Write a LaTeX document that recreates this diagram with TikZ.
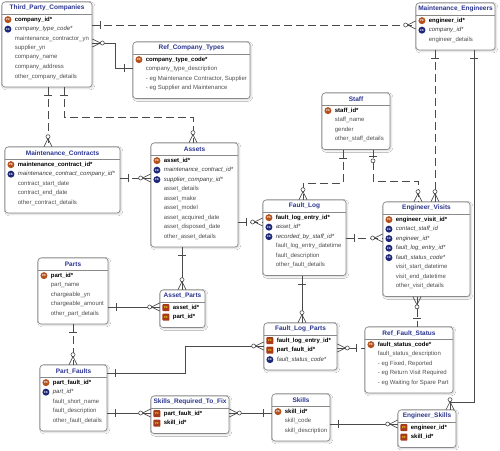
\documentclass[tikz,border=0pt]{standalone}
\usepackage{fontspec}
\setmainfont{Liberation Sans}
\usetikzlibrary{calc,fit,shadows.blur}
\definecolor{ttlblue}{HTML}{2B3590}
\definecolor{fieldgray}{HTML}{505050}
\definecolor{fkgray}{HTML}{3C3C3C}
\definecolor{frame}{HTML}{8A8A8A}
\definecolor{relgray}{HTML}{4A4A4A}
\definecolor{pkcol}{HTML}{B4521E}
\definecolor{fkcol}{HTML}{1E2878}
\definecolor{pfcol}{HTML}{A83A1C}
\newcommand\fldfont{\fontsize{6}{7}\selectfont}
\newcommand\ttlfont{\fontsize{6.5}{7.5}\selectfont}
\newcommand\keyfont{\fontsize{2.8}{3}\selectfont}
\tikzset{
  tbl/.style={draw=frame, fill=white, rounded corners=3pt, line width=0.7pt, inner sep=0pt,
    blur shadow={shadow xshift=1.2pt, shadow yshift=-1.2pt, shadow blur radius=1.6pt, shadow opacity=18}},
  ttl/.style={font=\ttlfont\bfseries, text=ttlblue, inner sep=0pt},
  sepline/.style={draw=frame, line width=0.8pt},
  fld/.style={anchor=west, inner sep=0pt, font=\fldfont, text=fieldgray},
  keydot/.style={circle, fill=#1, inner sep=0pt, minimum size=7pt, text=white, font=\keyfont\bfseries},
  keysq/.style={rectangle, rounded corners=0.8pt, fill=pfcol, inner sep=0pt, minimum size=7pt,
    text=yellow!85!orange, font=\keyfont\bfseries},
  pkrow/.style={fld, font=\fldfont\bfseries, text=black, label={[keydot=pkcol, label distance=3pt]left:PK}},
  fkrow/.style={fld, font=\fldfont\itshape, text=fkgray, label={[keydot=fkcol, label distance=3pt]left:FK}},
  pfrow/.style={fld, font=\fldfont\bfseries, text=black, label={[keysq, label distance=3pt]left:PF}},
  atrow/.style={fld},
  rel/.style={draw=relgray, line width=0.6pt},
  nonid/.style={dash pattern=on 8pt off 4pt},
  one/.pic={\draw[solid, relgray, line width=0.6pt] (8,-4) -- (8,4);},
  zone/.pic={\draw[solid, relgray, line width=0.6pt] (6,-4) -- (6,4);
    \draw[solid, relgray, line width=0.6pt, fill=white] (11,0) circle (2pt);},
  crow/.pic={\draw[solid, relgray, line width=0.6pt] (0,-4) -- (8,0) -- (0,4);
    \draw[solid, relgray, line width=0.6pt, fill=white] (10,0) circle (2pt);},
}
% box: name, left, top, right, rows, title
\newcommand\entity[6]{%
  \pgfmathsetmacro\eb{#3+28+9.5*(#5-1)}
  \node[tbl, fit={(#2,#3) (#4,\eb)}] (#1) {};
  \node[ttl] (#1-t) at ($(#1.north)+(0,6.5)$) {#6};
  \draw[sepline] ($(#1.north west)+(0,13)$) -- ($(#1.north east)+(0,13)$);
}
\newcommand\fields[2]{%
  \foreach \k/\t [count=\i] in {#2}
    \node[\k] (#1-\i) at ($(#1.north west)+(13,{18+9.5*(\i-1)})$) {\t};
}

\begin{document}
\begin{tikzpicture}[x=1pt,y=-1pt]
  \fill[white] (0,0) rectangle (500,450);
  \useasboundingbox (0,0) rectangle (500,450);
  % companies
  \entity{tpc}{2}{2}{92}{7}{Third\_Party\_Companies}
  \fields{tpc}{pkrow/company\_id*, fkrow/company\_type\_code*, atrow/maintenance\_contractor\_yn,
    atrow/supplier\_yn, atrow/company\_name, atrow/company\_address, atrow/other\_company\_details}
  \entity{rct}{133}{42}{250}{4}{Ref\_Company\_Types}
  \fields{rct}{pkrow/company\_type\_code*, atrow/company\_type\_description,
    atrow/{- eg Maintenance Contractor, Supplier}, atrow/- eg Supplier and Maintenance}
  \entity{meng}{416}{3}{495}{3}{Maintenance\_Engineers}
  \fields{meng}{pkrow/engineer\_id*, fkrow/company\_id*, atrow/engineer\_details}
  \entity{mcon}{5}{147}{120}{5}{Maintenance\_Contracts}
  \fields{mcon}{pkrow/maintenance\_contract\_id*, fkrow/maintenance\_contract\_company\_id*,
    atrow/contract\_start\_date, atrow/contract\_end\_date, atrow/other\_contract\_details}
  % assets and faults
  \entity{asset}{151}{143}{238}{9}{Assets}
  \fields{asset}{pkrow/asset\_id*, fkrow/maintenance\_contract\_id*, fkrow/supplier\_company\_id*,
    atrow/asset\_details, atrow/asset\_make, atrow/asset\_model, atrow/asset\_acquired\_date,
    atrow/asset\_disposed\_date, atrow/other\_asset\_details}
  \entity{staff}{322}{93}{390}{4}{Staff}
  \fields{staff}{pkrow/staff\_id*, atrow/staff\_name, atrow/gender, atrow/other\_staff\_details}
  \entity{flog}{263}{200}{346}{6}{Fault\_Log}
  \fields{flog}{pkrow/fault\_log\_entry\_id*, fkrow/asset\_id*, fkrow/recorded\_by\_staff\_id*,
    atrow/fault\_log\_entry\_datetime, atrow/fault\_description, atrow/other\_fault\_details}
  \entity{evis}{383}{202}{470}{8}{Engineer\_Visits}
  \fields{evis}{pkrow/engineer\_visit\_id*, fkrow/contact\_staff\_id, fkrow/engineer\_id*,
    fkrow/fault\_log\_entry\_id*, fkrow/fault\_status\_code*, atrow/visit\_start\_datetime,
    atrow/visit\_end\_datetime, atrow/other\_visit\_details}
  \entity{part}{38}{258}{108}{5}{Parts}
  \fields{part}{pkrow/part\_id*, atrow/part\_name, atrow/chargeable\_yn, atrow/chargeable\_amount,
    atrow/other\_part\_details}
  \entity{apart}{160}{290}{205}{2}{Asset\_Parts}
  \fields{apart}{pfrow/asset\_id*, pfrow/part\_id*}
  \entity{flp}{264}{323}{337}{3}{Fault\_Log\_Parts}
  \fields{flp}{pfrow/fault\_log\_entry\_id*, pfrow/part\_fault\_id*, fkrow/fault\_status\_code*}
  \entity{rfs}{365}{327}{453}{5}{Ref\_Fault\_Status}
  \fields{rfs}{pkrow/fault\_status\_code*, atrow/fault\_status\_description,
    atrow/{- eg Fixed, Reported}, atrow/- eg Return Visit Required, atrow/- eg Waiting for Spare Part}
  \entity{pfault}{40}{365}{107}{5}{Part\_Faults}
  \fields{pfault}{pkrow/part\_fault\_id*, fkrow/part\_id*, atrow/fault\_short\_name,
    atrow/fault\_description, atrow/other\_fault\_details}
  % skills
  \entity{srtf}{151}{396}{229}{2}{Skills\_Required\_To\_Fix}
  \fields{srtf}{pfrow/part\_fault\_id*, pfrow/skill\_id*}
  \entity{skill}{272}{394}{330}{3}{Skills}
  \fields{skill}{pkrow/skill\_id*, atrow/skill\_code, atrow/skill\_description}
  \entity{eskill}{398}{410}{456}{2}{Engineer\_Skills}
  \fields{eskill}{pfrow/engineer\_id*, pfrow/skill\_id*}
  % relationships
  \draw[rel,nonid] (tpc.east |- 0,25) pic{one} -- (meng.west |- 0,25) pic[rotate=180]{crow};
  \draw[rel] (tpc.east |- 0,43) pic{crow} -- (115,43) |- (rct.west |- 0,68) pic[rotate=180]{one};
  \draw[rel,nonid] (tpc.south -| 48,0) pic[rotate=-90]{one} -- (mcon.north -| 48,0) pic[rotate=90]{crow};
  \draw[rel,nonid] (tpc.south -| 64,0) pic[rotate=-90]{one} |- (193,117) -- (asset.north -| 193,0) pic[rotate=90]{crow};
  \draw[rel,nonid] (mcon.east |- 0,178) pic{one} -- (asset.west |- 0,178) pic[rotate=180]{crow};
  \draw[rel,nonid] (asset.east |- 0,222) pic{one} -- (flog.west |- 0,222) pic[rotate=180]{crow};
  \draw[rel] (asset.south -| 182,0) pic[rotate=-90]{one} -- (apart.north -| 182,0) pic[rotate=90]{crow};
  \draw[rel] (part.east |- 0,307) pic{one} -- (apart.west |- 0,307) pic[rotate=180]{crow};
  \draw[rel,nonid] (staff.south -| 343,0) pic[rotate=-90]{one} |- (303,183) -- (flog.north -| 303,0) pic[rotate=90]{crow};
  \draw[rel,nonid] (staff.south -| 373,0) pic[rotate=-90]{zone} |- (418,181) -- (evis.north -| 418,0) pic[rotate=90]{crow};
  \draw[rel,nonid] (meng.south -| 435,0) pic[rotate=-90]{one} -- (evis.north -| 435,0) pic[rotate=90]{crow};
  \draw[rel] (meng.south -| 474,0) pic[rotate=-90]{one} |- (450,402) -- (eskill.north -| 450,0) pic[rotate=90]{crow};
  \draw[rel,nonid] (flog.east |- 0,238) pic{one} -- (evis.west |- 0,238) pic[rotate=180]{crow};
  \draw[rel] (flog.south -| 302,0) pic[rotate=-90]{one} -- (flp.north -| 302,0) pic[rotate=90]{crow};
  \draw[rel,nonid] (evis.south -| 417,0) pic[rotate=-90]{crow} -- (rfs.north -| 417,0) pic[rotate=90]{one};
  \draw[rel,nonid] (flp.east |- 0,348) pic{crow} -- (rfs.west |- 0,348) pic[rotate=180]{one};
  \draw[rel] (pfault.east |- 0,373) pic{one} -| (185,346) -- (flp.west |- 0,346) pic[rotate=180]{crow};
  \draw[rel,nonid] (part.south -| 73,0) pic[rotate=-90]{one} -- (pfault.north -| 73,0) pic[rotate=90]{crow};
  \draw[rel] (pfault.east |- 0,413) pic{one} -- (srtf.west |- 0,413) pic[rotate=180]{crow};
  \draw[rel] (srtf.east |- 0,413) pic{crow} -- (skill.west |- 0,413) pic[rotate=180]{one};
  \draw[rel] (skill.east |- 0,424) pic{one} -- (eskill.west |- 0,424) pic[rotate=180]{crow};
\end{tikzpicture}
\end{document}
